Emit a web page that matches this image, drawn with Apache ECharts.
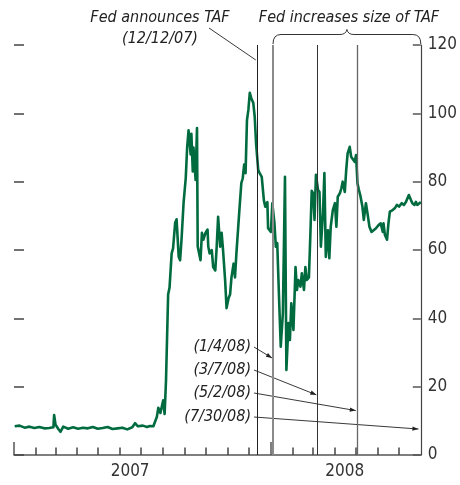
<!DOCTYPE html>
<html><head><meta charset="utf-8">
<script src="https://cdn.jsdelivr.net/npm/echarts@6/dist/echarts.min.js"></script>
<style>html,body{margin:0;padding:0;background:#fff}#c{width:460px;height:485px}</style>
</head><body><div id="c"></div>
<script>
// ---------- data ----------
const dates = ['2007-01-02','2007-01-09','2007-01-16','2007-01-23','2007-01-30','2007-02-06','2007-02-13','2007-02-20','2007-02-26','2007-02-27',
'2007-03-01','2007-03-05','2007-03-08','2007-03-12','2007-03-19','2007-03-26','2007-04-02','2007-04-09','2007-04-16','2007-04-23',
'2007-04-30','2007-05-07','2007-05-14','2007-05-21','2007-05-28','2007-06-04','2007-06-11','2007-06-13','2007-06-18','2007-06-22',
'2007-06-26','2007-07-03','2007-07-09','2007-07-13','2007-07-18','2007-07-23','2007-07-25','2007-07-28','2007-08-01','2007-08-03',
'2007-08-05','2007-08-08','2007-08-10','2007-08-13','2007-08-15','2007-08-18','2007-08-20','2007-08-23','2007-08-25','2007-08-27',
'2007-08-30','2007-09-02','2007-09-04','2007-09-06','2007-09-09','2007-09-10','2007-09-12','2007-09-13','2007-09-16','2007-09-18',
'2007-09-19','2007-09-23','2007-09-25','2007-09-27','2007-09-30','2007-10-03','2007-10-04','2007-10-06','2007-10-09','2007-10-11',
'2007-10-14','2007-10-16','2007-10-18','2007-10-21','2007-10-23','2007-10-25','2007-10-28','2007-10-30','2007-11-02','2007-11-04',
'2007-11-06','2007-11-09','2007-11-11','2007-11-13','2007-11-17','2007-11-20','2007-11-22','2007-11-24','2007-11-26','2007-11-28',
'2007-11-30','2007-12-02','2007-12-04','2007-12-07','2007-12-09','2007-12-11','2007-12-14','2007-12-16','2007-12-19','2007-12-22',
'2007-12-24','2007-12-27','2007-12-28','2008-01-01','2008-01-03','2008-01-06','2008-01-08','2008-01-10','2008-01-13','2008-01-15',
'2008-01-18','2008-01-21','2008-01-23','2008-01-26','2008-01-28','2008-01-30','2008-02-02','2008-02-05','2008-02-07','2008-02-09',
'2008-02-12','2008-02-14','2008-02-17','2008-02-19','2008-02-21','2008-02-24','2008-02-26','2008-02-28','2008-03-01','2008-03-03',
'2008-03-05','2008-03-08','2008-03-10','2008-03-12','2008-03-15','2008-03-17','2008-03-19','2008-03-22','2008-03-24','2008-03-26',
'2008-03-29','2008-04-01','2008-04-03','2008-04-05','2008-04-08','2008-04-10','2008-04-12','2008-04-15','2008-04-17','2008-04-19',
'2008-04-22','2008-04-24','2008-04-26','2008-04-29','2008-05-01','2008-05-03','2008-05-05','2008-05-07','2008-05-10','2008-05-12',
'2008-05-15','2008-05-18','2008-05-20','2008-05-23','2008-05-25','2008-05-29','2008-06-02','2008-06-05','2008-06-08','2008-06-09',
'2008-06-11','2008-06-14','2008-06-16','2008-06-18','2008-06-22','2008-06-25','2008-06-28','2008-07-01','2008-07-05','2008-07-08',
'2008-07-11','2008-07-13','2008-07-15','2008-07-18','2008-07-20','2008-07-23','2008-07-25','2008-07-27','2008-07-30','2008-08-01'];
const spread = [8.4,8.6,8.0,8.3,7.9,8.2,7.8,7.9,8.1,11.7,
8.9,7.6,6.8,8.3,7.7,8.1,7.7,8.0,7.8,8.2,
7.7,7.9,8.2,7.6,7.8,8.0,7.5,7.2,8.1,9.3,
8.4,8.6,8.2,8.5,8.4,11.2,13.8,12.3,16,12,
22,47,49,59,60.5,68,69,58,57,63,
74,81,90,95,88,94,83,90,80.5,95.7,
61,57,65,63,65,66,61,59,60,55,
54,61,69.7,61,65,60,51,43,46,47,
52,56,52,59,71,79.6,81,85,82.5,98,
101,106,104.5,103,99,91,83.4,82.5,81.4,74.6,
72.7,74,66.4,65.3,73.7,67.9,61,62,43.4,31.7,
41.5,81.4,24.9,38.6,33.7,44.4,36.6,55,48.3,51.2,
49.3,53.2,48.3,55,51.2,52,64,77.3,76.6,68.8,
82,77.6,77,61,70.8,82.5,58,65.8,57.6,66.8,
71.7,73.7,66.8,75.6,76.6,78,80,77,83.4,88.3,
90.2,87.3,87.8,85.8,87.8,79.5,77.6,76,72.7,68.8,
73.7,69.7,66.8,65.3,65.8,66.3,67.3,67.8,65.3,67.8,
64.4,63,67.8,71.2,71.7,72.2,73.2,72.7,73.7,73.2,
74.1,73.7,76.1,74.6,73.7,73.2,74.1,73.2,73.7,74];
const eventDates = ['2007-12-12','2008-01-04','2008-03-07','2008-05-02','2008-07-30'];
const eventLabels = ['(12/12/07)','(1/4/08)','(3/7/08)','(5/2/08)','(7/30/08)'];
const arrowTipValues = [null, 28.4, 17.6, 13, 7.6];
const monthTickDates = ['2007-02-01','2007-03-01','2007-04-01','2007-05-01','2007-06-01','2007-07-01','2007-08-01',
'2007-09-01','2007-10-01','2007-11-01','2007-12-01','2008-02-01','2008-03-01','2008-04-01','2008-05-01','2008-06-01',
'2008-07-01'];
const yearTickDates = ['2007-01-01','2008-01-01'];
const yearLabelDates = ['2007-06-15','2008-04-15'];
const yearLabels = ['2007','2008'];
const xMin = '2007-01-01', xMax = '2008-08-01';
const yMin = 0, yMax = 120, yStep = 20;
const titleAnnounce = 'Fed announces TAF';
const titleIncrease = 'Fed increases size of TAF';

// ---------- helpers ----------
function ts(s){const p=s.split('-').map(Number);return Date.UTC(p[0],p[1]-1,p[2]);}
const FONT="'Liberation Sans Narrow','DejaVu Sans Condensed','Arial Narrow','Liberation Sans',sans-serif";
const GREEN='#006B3F';
const yearLabelTs=yearLabelDates.map(ts);

const chart=echarts.init(document.getElementById('c'),null,{renderer:'canvas'});
const lineStyles=[{color:'#222',width:1},{color:'#8a8a8a',width:2},{color:'#333',width:1},{color:'#666',width:1.3}];
const baseX={type:'value',min:ts(xMin),max:ts(xMax),position:'bottom',splitLine:{show:false}};

chart.setOption({
  animation:false,
  grid:{left:14,right:37,top:45,bottom:30,containLabel:false},
  xAxis:[
    Object.assign({},baseX,{
      axisLine:{show:true,lineStyle:{color:'#555',width:1.5}},
      axisTick:{show:false},axisLabel:{show:false}}),
    Object.assign({},baseX,{
      axisLine:{show:false},
      axisTick:{show:true,inside:true,length:13,customValues:yearTickDates.map(ts),lineStyle:{color:'#555',width:1.5}},
      axisLabel:{show:true,customValues:yearLabelTs,margin:8,fontFamily:FONT,fontSize:17,color:'#333',
        formatter:function(v){const i=yearLabelTs.indexOf(v);return i>=0?yearLabels[i]:'';}}})
  ],
  yAxis:[{
    type:'value',min:yMin,max:yMax,interval:yStep,position:'right',
    axisLine:{show:true,lineStyle:{color:'#444',width:1.2}},
    axisTick:{show:true,inside:true,length:8,lineStyle:{color:'#555',width:1.5}},
    axisLabel:{show:true,margin:7,fontFamily:FONT,fontSize:17,color:'#333'},
    splitLine:{show:false}
  },{
    type:'value',min:yMin,max:yMax,interval:yStep,position:'left',
    axisLine:{show:false},
    axisTick:{show:true,inside:true,length:10,lineStyle:{color:'#444',width:1.5}},
    axisLabel:{show:false},splitLine:{show:false}
  }],
  series:[{
    type:'line',xAxisIndex:0,yAxisIndex:0,
    data:dates.map((d,i)=>[ts(d),spread[i]]),
    showSymbol:false,symbol:'none',z:3,
    lineStyle:{color:GREEN,width:2.6,join:'round'},
    markLine:{silent:true,symbol:'none',label:{show:false},
      data:eventDates.slice(0,4).map((d,i)=>({xAxis:ts(d),lineStyle:Object.assign({type:'solid'},lineStyles[i])}))}
  }]
});

// ---------- annotations ----------
function px(d,v){return chart.convertToPixel({xAxisIndex:0,yAxisIndex:0},[ts(d),v]);}
function arrow(x1,y1,x2,y2,head){
  const dx=x2-x1,dy=y2-y1,L=Math.hypot(dx,dy),ux=dx/L,uy=dy/L,nx=-uy,ny=ux;
  const els=[{type:'line',shape:{x1:x1,y1:y1,x2:x2,y2:y2},style:{stroke:'#222',lineWidth:0.9}}];
  if(head){const h=6,w=2.2;
    els.push({type:'polygon',shape:{points:[[x2,y2],[x2-h*ux+w*nx,y2-h*uy+w*ny],[x2-h*ux-w*nx,y2-h*uy-w*ny]]},style:{fill:'#222'}});}
  return els;
}
const g=[];
// monthly ticks, placed through the axis scale
monthTickDates.forEach(d=>{const p=px(d,0);
  g.push({type:'rect',z:50,shape:{x:Math.round(p[0])-0.75,y:p[1]-7.5,width:1.5,height:7.5},style:{fill:'#444'}});});
const tStyle=(s,x,y,align)=>({type:'text',x:x,y:y,style:{text:s,font:'italic 16px '+FONT,fill:'#222',align:align||'center',verticalAlign:'middle'}});
g.push(tStyle(titleAnnounce,160,18));
g.push(tStyle(eventLabels[0],160,39));
const taf=px(eventDates[0],0);
g.push(...arrow(209,28,taf[0]-1,60,false));
g.push(tStyle(titleIncrease,349,18));
const bL=px(eventDates[1],0)[0], bR=px(xMax,0)[0], bM=(bL+bR)/2, yb=34.5;
const bs={stroke:'#333',lineWidth:1,fill:null};
g.push({type:'bezierCurve',shape:{x1:bL,y1:44,cpx1:bL,cpy1:yb,x2:bL+8,y2:yb},style:bs});
g.push({type:'line',shape:{x1:bL+8,y1:yb,x2:bM-7,y2:yb},style:bs});
g.push({type:'bezierCurve',shape:{x1:bM-7,y1:yb,cpx1:bM-1,cpy1:yb,x2:bM,y2:29.5},style:bs});
g.push({type:'bezierCurve',shape:{x1:bM,y1:29.5,cpx1:bM+1,cpy1:yb,x2:bM+7,y2:yb},style:bs});
g.push({type:'line',shape:{x1:bM+7,y1:yb,x2:bR-8,y2:yb},style:bs});
g.push({type:'bezierCurve',shape:{x1:bR-8,y1:yb,cpx1:bR,cpy1:yb,x2:bR,y2:44},style:bs});
const labYs=[347,370,393,417];
for(let i=1;i<5;i++){
  g.push(tStyle(eventLabels[i],251,labYs[i-1],'right'));
  const tip=px(eventDates[i],arrowTipValues[i]);
  g.push(...arrow(254,labYs[i-1],tip[0]-1,tip[1],true));
}
chart.setOption({graphic:{elements:g}});
</script></body></html>
